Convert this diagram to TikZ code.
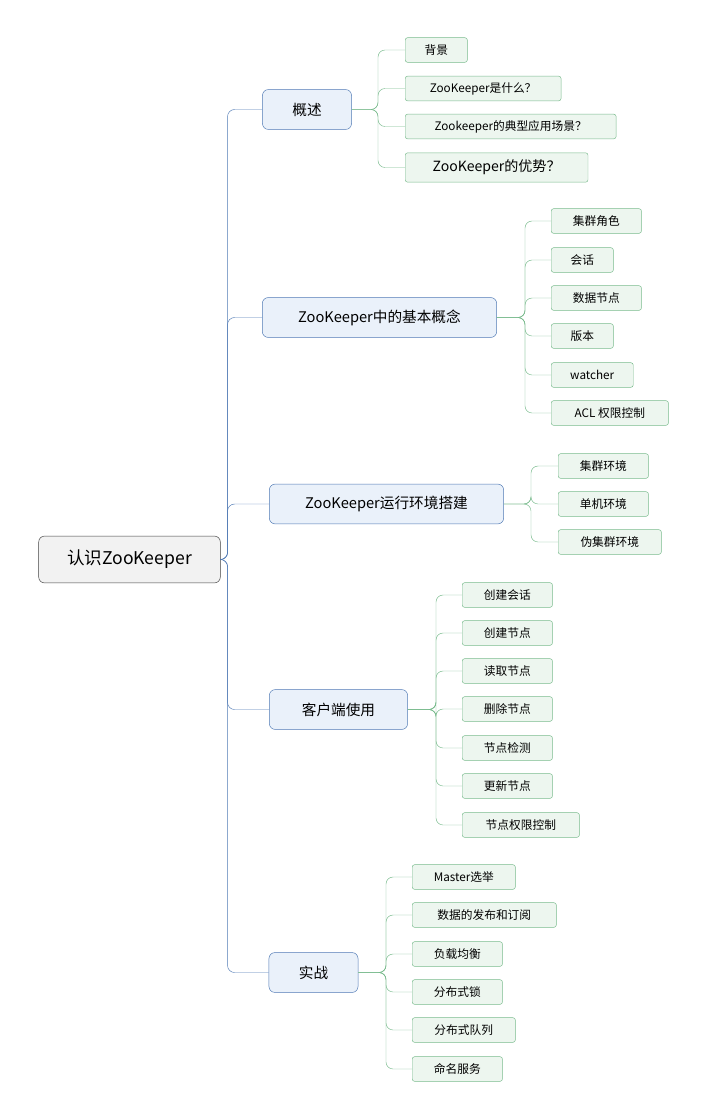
\documentclass[tikz,border=0pt]{standalone}
\usepackage{fontspec}
\setmainfont{Noto Sans CJK SC}
\usetikzlibrary{positioning}
\definecolor{rootgray}{RGB}{242,242,242}
\definecolor{topicblue}{RGB}{79,121,180}
\definecolor{topicfill}{RGB}{234,241,250}
\definecolor{leafgreen}{RGB}{120,186,140}
\definecolor{leaffill}{RGB}{237,246,239}

\begin{document}
\begin{tikzpicture}[x=0.03cm, y=-0.03cm,
        root/.style={rectangle, draw=black!75, fill=rootgray, rounded corners=5pt, minimum height=40pt, inner sep=0pt, font=\fontsize{15}{18}\selectfont},
        topic/.style={rectangle, draw=topicblue, fill=topicfill, rounded corners=5pt, minimum height=34pt, inner sep=0pt, font=\fontsize{12.5}{15}\selectfont},
        leaf/.style={rectangle, draw=leafgreen, fill=leaffill, rounded corners=2pt, minimum height=21pt, inner sep=0pt, font=\fontsize{10}{12}\selectfont},
        tlink/.style={draw=topicblue, rounded corners=6pt},
        llink/.style={draw=leafgreen, rounded corners=6pt}
    ]
        \useasboundingbox (0,0) rectangle (707,1120);

        % Root
        \node[root, minimum width=155pt] (root) at (129.5,559.5) {认识ZooKeeper};

        % Topics
        \node[topic, minimum width=76pt] (intro) at (307,109.5) {概述};
        \node[topic, minimum width=200pt] (concept) at (379.5,317.5) {ZooKeeper中的基本概念};
        \node[topic, minimum width=200pt] (env) at (386.5,504) {ZooKeeper运行环境搭建};
        \node[topic, minimum width=118pt] (client) at (338.5,709.5) {客户端使用};
        \node[topic, minimum width=76pt] (practice) at (313.5,972.5) {实战};

        % Overview leaves
        \node[leaf, anchor=west, minimum width=53pt] (bg) at (405,50) {背景};
        \node[leaf, anchor=west, minimum width=133pt] (what) at (405,88.5) {ZooKeeper是什么？};
        \node[leaf, anchor=west, minimum width=180pt] (usage) at (405,126.5) {Zookeeper的典型应用场景？};
        \node[leaf, anchor=west, minimum width=156pt, minimum height=25pt, font=\fontsize{12}{14}\selectfont] (merit) at (405,167.5) {ZooKeeper的优势？};

        % Concept leaves
        \node[leaf, anchor=west, minimum width=77pt] (role) at (551,221) {集群角色};
        \node[leaf, anchor=west, minimum width=53pt] (session) at (551,260) {会话};
        \node[leaf, anchor=west, minimum width=77pt] (znode) at (551,298) {数据节点};
        \node[leaf, anchor=west, minimum width=53pt] (version) at (551,336) {版本};
        \node[leaf, anchor=west, minimum width=70pt] (watcher) at (551,375) {watcher};
        \node[leaf, anchor=west, minimum width=100pt] (acl) at (551,413) {ACL 权限控制};

        % Environment leaves
        \node[leaf, anchor=west, minimum width=77pt] (cluster) at (558,466) {集群环境};
        \node[leaf, anchor=west, minimum width=77pt] (single) at (558,504) {单机环境};
        \node[leaf, anchor=west, minimum width=88pt] (pseudo) at (558,542) {伪集群环境};

        % Client leaves
        \node[leaf, anchor=west, minimum width=77pt] (mksession) at (462,595) {创建会话};
        \node[leaf, anchor=west, minimum width=77pt] (mknode) at (462,633) {创建节点};
        \node[leaf, anchor=west, minimum width=77pt] (getnode) at (462,671) {读取节点};
        \node[leaf, anchor=west, minimum width=77pt] (delnode) at (462,709) {删除节点};
        \node[leaf, anchor=west, minimum width=77pt] (chknode) at (462,748) {节点检测};
        \node[leaf, anchor=west, minimum width=77pt] (setnode) at (462,786) {更新节点};
        \node[leaf, anchor=west, minimum width=100pt] (aclnode) at (462,825) {节点权限控制};

        % Practice leaves
        \node[leaf, anchor=west, minimum width=88pt] (master) at (412,877) {Master选举};
        \node[leaf, anchor=west, minimum width=123pt] (pubsub) at (412,915) {数据的发布和订阅};
        \node[leaf, anchor=west, minimum width=77pt] (balance) at (412,954) {负载均衡};
        \node[leaf, anchor=west, minimum width=77pt] (lock) at (412,992) {分布式锁};
        \node[leaf, anchor=west, minimum width=88pt] (queue) at (412,1030) {分布式队列};
        \node[leaf, anchor=west, minimum width=77pt] (naming) at (412,1069) {命名服务};

        % Root to topics
        \draw[tlink] (root.east) -- ++(7,0) |- (intro.west);
        \draw[tlink] (root.east) -- ++(7,0) |- (concept.west);
        \draw[tlink] (root.east) -- ++(7,0) |- (env.west);
        \draw[tlink] (root.east) -- ++(7,0) |- (client.west);
        \draw[tlink] (root.east) -- ++(7,0) |- (practice.west);

        % Topics to leaves
        \draw[llink] (bg.west) -- ++(-27,0) |- (intro.east);
        \draw[llink] (what.west) -- ++(-27,0) |- (intro.east);
        \draw[llink] (usage.west) -- ++(-27,0) |- (intro.east);
        \draw[llink] (merit.west) -- ++(-27,0) |- (intro.east);

        \draw[llink] (role.west) -- ++(-26,0) |- (concept.east);
        \draw[llink] (session.west) -- ++(-26,0) |- (concept.east);
        \draw[llink] (znode.west) -- ++(-26,0) |- (concept.east);
        \draw[llink] (version.west) -- ++(-26,0) |- (concept.east);
        \draw[llink] (watcher.west) -- ++(-26,0) |- (concept.east);
        \draw[llink] (acl.west) -- ++(-26,0) |- (concept.east);

        \draw[llink] (cluster.west) -- ++(-27,0) |- (env.east);
        \draw[llink] (single.west) -- ++(-27,0) |- (env.east);
        \draw[llink] (pseudo.west) -- ++(-27,0) |- (env.east);

        \draw[llink] (mksession.west) -- ++(-26,0) |- (client.east);
        \draw[llink] (mknode.west) -- ++(-26,0) |- (client.east);
        \draw[llink] (getnode.west) -- ++(-26,0) |- (client.east);
        \draw[llink] (delnode.west) -- ++(-26,0) |- (client.east);
        \draw[llink] (chknode.west) -- ++(-26,0) |- (client.east);
        \draw[llink] (setnode.west) -- ++(-26,0) |- (client.east);
        \draw[llink] (aclnode.west) -- ++(-26,0) |- (client.east);

        \draw[llink] (master.west) -- ++(-26,0) |- (practice.east);
        \draw[llink] (pubsub.west) -- ++(-26,0) |- (practice.east);
        \draw[llink] (balance.west) -- ++(-26,0) |- (practice.east);
        \draw[llink] (lock.west) -- ++(-26,0) |- (practice.east);
        \draw[llink] (queue.west) -- ++(-26,0) |- (practice.east);
        \draw[llink] (naming.west) -- ++(-26,0) |- (practice.east);
    \end{tikzpicture}
\end{document}
